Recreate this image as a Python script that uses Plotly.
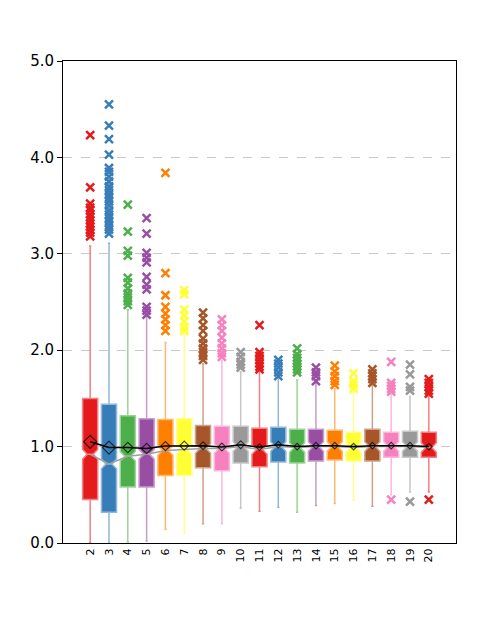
import plotly.graph_objects as go

# categories and box statistics
cats = ['2', '3', '4', '5', '6', '7', '8', '9', '10', '11',
        '12', '13', '14', '15', '16', '17', '18', '19', '20']
q1 = [0.45, 0.32, 0.58, 0.58, 0.70, 0.70, 0.78, 0.75, 0.83, 0.79,
      0.84, 0.83, 0.85, 0.86, 0.85, 0.85, 0.89, 0.89, 0.89]
median = [0.92, 0.82, 0.90, 0.92, 0.96, 0.97, 0.98, 0.98, 1.00, 0.97,
          1.00, 0.99, 1.00, 1.00, 0.99, 1.00, 1.00, 1.00, 0.99]
q3 = [1.50, 1.44, 1.32, 1.29, 1.28, 1.29, 1.22, 1.21, 1.21, 1.19,
      1.20, 1.18, 1.18, 1.17, 1.15, 1.18, 1.15, 1.16, 1.15]
lower = [0.0, 0.0, 0.01, 0.02, 0.14, 0.10, 0.20, 0.20, 0.36, 0.33,
         0.37, 0.32, 0.39, 0.41, 0.44, 0.38, 0.50, 0.53, 0.53]
upper = [3.08, 3.11, 2.42, 2.35, 2.08, 2.16, 1.86, 1.89, 1.78, 1.79,
         1.71, 1.69, 1.66, 1.60, 1.59, 1.63, 1.54, 1.52, 1.52]
mean = [1.05, 0.99, 0.99, 0.98, 1.005, 1.01, 1.01, 0.995, 1.02, 0.995,
        1.02, 1.00, 1.01, 1.01, 1.00, 1.01, 1.01, 1.01, 1.00]
outliers = [
    [4.23, 3.69, 3.52, 3.48, 3.45, 3.41, 3.38, 3.35, 3.31, 3.28, 3.25, 3.22, 3.18],
    [4.55, 4.33, 4.19, 4.03, 3.89, 3.85, 3.80, 3.75, 3.70, 3.66, 3.62, 3.58,
     3.54, 3.50, 3.45, 3.41, 3.37, 3.33, 3.29, 3.25, 3.21],
    [3.51, 3.23, 3.03, 2.98, 2.75, 2.70, 2.64, 2.59, 2.55, 2.51, 2.47],
    [3.37, 3.21, 3.01, 2.96, 2.91, 2.76, 2.68, 2.63, 2.45, 2.41, 2.37],
    [3.84, 2.80, 2.57, 2.45, 2.38, 2.32, 2.26, 2.20],
    [2.62, 2.58, 2.42, 2.36, 2.30, 2.24, 2.20],
    [2.39, 2.33, 2.26, 2.20, 2.12, 2.07, 2.02, 1.98, 1.94, 1.90],
    [2.32, 2.26, 2.20, 2.13, 2.07, 2.02, 1.97, 1.93],
    [1.98, 1.93, 1.88, 1.85, 1.82],
    [2.26, 1.98, 1.94, 1.90, 1.86, 1.83, 1.80],
    [1.90, 1.86, 1.82, 1.77, 1.73],
    [2.02, 1.96, 1.92, 1.89, 1.86, 1.83, 1.80, 1.77],
    [1.82, 1.77, 1.73, 1.68],
    [1.84, 1.78, 1.73, 1.68, 1.64],
    [1.76, 1.68, 1.64, 1.60],
    [1.80, 1.76, 1.73, 1.70, 1.66],
    [1.88, 1.66, 1.63, 1.60, 1.57, 0.45],
    [1.85, 1.75, 1.62, 1.58, 0.43],
    [1.70, 1.66, 1.62, 1.58, 1.55, 0.45],
]

# Set1 palette, cycling
set1 = ['#e41a1c', '#377eb8', '#4daf4a', '#984ea3', '#ff7f00',
        '#ffff33', '#a65628', '#f781bf', '#999999']


def lighten(hex_col, amt=0.45):
    r, g, b = (int(hex_col[i:i + 2], 16) for i in (1, 3, 5))
    r, g, b = (int(c + (255 - c) * amt) for c in (r, g, b))
    return 'rgb(%d,%d,%d)' % (r, g, b)


fig = go.Figure()

for i, c in enumerate(cats):
    col = set1[i % len(set1)]
    fig.add_trace(go.Box(
        x=[c], q1=[q1[i]], median=[median[i]], q3=[q3[i]],
        lowerfence=[lower[i]], upperfence=[upper[i]],
        notched=True, notchspan=[0.05], notchwidth=0.3,
        width=0.8, whiskerwidth=0.15,
        fillcolor=col, line=dict(color=lighten(col), width=1.5),
        boxpoints=False, hoverinfo='skip', showlegend=False))

for i, c in enumerate(cats):
    col = set1[i % len(set1)]
    fig.add_trace(go.Scatter(
        x=[c] * len(outliers[i]), y=outliers[i], mode='markers',
        marker=dict(symbol='x-thin', size=8, color=col,
                    line=dict(color=col, width=2.5)),
        showlegend=False))

# line through the medians
fig.add_trace(go.Scatter(x=cats, y=median, mode='lines',
                         line=dict(color='#a0a0a0', width=1.5),
                         showlegend=False))
# means
mean_sizes = [10, 10, 8, 8, 7, 7, 6, 6, 6, 5, 5, 5, 5, 5, 5, 5, 5, 5, 5]
fig.add_trace(go.Scatter(x=cats, y=mean, mode='lines+markers',
                         line=dict(color='black', width=1.5),
                         marker=dict(symbol='diamond-open', size=mean_sizes,
                                     color='black', line=dict(width=1.2)),
                         showlegend=False))

fig.update_layout(
    width=496, height=615,
    margin=dict(l=55, r=48, t=53, b=80),
    plot_bgcolor='white', paper_bgcolor='white',
    font=dict(family='DejaVu Sans', color='black'),
    boxmode='overlay',
    xaxis=dict(type='category', showline=True, mirror=True, linecolor='black',
               linewidth=1, showgrid=False, tickangle=-90,
               tickfont=dict(size=11), ticks=''),
    yaxis=dict(range=[0, 5], dtick=1, tickformat='.1f', showline=True,
               mirror=True, linecolor='black', linewidth=1, ticks='outside',
               ticklen=5, tickcolor='black', showgrid=True, gridcolor='#c8c8c8',
               griddash='dash', zeroline=False, tickfont=dict(size=15)),
)

fig.write_html("out.html")
